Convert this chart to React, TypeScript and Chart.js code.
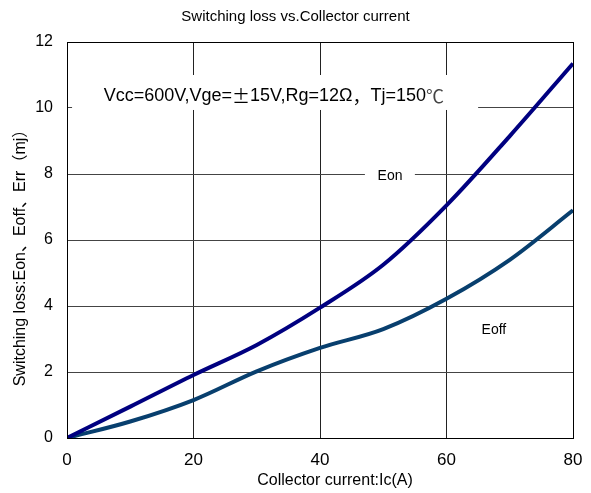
import React, { useEffect, useRef } from "react";
import { Chart, registerables } from "chart.js";

Chart.register(...registerables);

// Collector current (A)
const currentA = [0, 10, 20, 30, 40, 50, 60, 70, 80];
// Turn-on switching loss (mJ)
const eonMj = [0, 0.95, 1.91, 2.82, 3.95, 5.25, 7.05, 9.15, 11.35];
// Turn-off switching loss (mJ)
const eoffMj = [0, 0.5, 1.15, 2.02, 2.73, 3.3, 4.22, 5.4, 6.9];

const xTicks = [0, 20, 40, 60, 80];
const yTicks = [0, 2, 4, 6, 8, 10, 12];

const chartTitle = "Switching loss vs.Collector current";
const xTitle = "Collector current:Ic(A)";
const yTitle = "Switching loss:Eon、Eoff、Err（mj）";
// test conditions, split so the full-width symbols come from the CJK face
const conditionParts: [string, boolean][] = [
  ["Vcc=600V,Vge=", false],
  ["±", true],
  ["15V,Rg=12Ω", false],
  ["，", true],
  ["Tj=150", false],
  ["℃", true],
];
const eonLabel = "Eon";
const eoffLabel = "Eoff";

const FONT = '"Liberation Sans", Arial, "Noto Sans CJK SC", sans-serif';
const CJK = '"Noto Sans CJK SC", sans-serif';

const decor = {
  id: "decor",
  beforeDatasetsDraw(chart: any) {
    const { ctx, scales } = chart;
    const x = scales.x;
    const y = scales.y;
    ctx.save();
    ctx.fillStyle = "#ffffff";
    // white backing behind the conditions line
    const bx1 = x.getPixelForValue(0.8);
    const bx2 = x.getPixelForValue(65);
    const by1 = y.getPixelForValue(11.0);
    const by2 = y.getPixelForValue(9.94);
    ctx.fillRect(bx1, by1, bx2 - bx1, by2 - by1);
    // white backing behind the Eon label
    const ex1 = x.getPixelForValue(47.1);
    const ex2 = x.getPixelForValue(55);
    const ey1 = y.getPixelForValue(8.24);
    const ey2 = y.getPixelForValue(7.7);
    ctx.fillRect(ex1, ey1, ex2 - ex1, ey2 - ey1);
    ctx.restore();
  },
  afterDraw(chart: any) {
    const { ctx, scales, chartArea, width } = chart;
    const x = scales.x;
    const y = scales.y;
    ctx.save();
    ctx.fillStyle = "#000";
    ctx.textAlign = "center";
    ctx.textBaseline = "middle";

    ctx.font = `15px ${FONT}`;
    ctx.fillText(chartTitle, width / 2, 17);

    ctx.font = `16px ${FONT}`;
    ctx.fillText(xTitle, 335, 481);

    ctx.save();
    ctx.translate(21, 254);
    ctx.rotate(-Math.PI / 2);
    ctx.fillText(yTitle, 0, 0);
    ctx.restore();

    // conditions line, drawn piece by piece
    const latin = `18px ${FONT}`;
    const wide = `18px ${CJK}`;
    const widths = conditionParts.map(([t, w]) => {
      ctx.font = w ? wide : latin;
      return ctx.measureText(t).width;
    });
    const total = widths.reduce((a, b) => a + b, 0);
    let cx = x.getPixelForValue(32.7) - total / 2;
    const cy = y.getPixelForValue(10.36);
    ctx.textAlign = "left";
    conditionParts.forEach(([t, w], i) => {
      ctx.font = w ? wide : latin;
      ctx.fillStyle = t === "℃" ? "#444" : "#000";
      ctx.fillText(t, cx, cy);
      cx += widths[i];
    });
    ctx.fillStyle = "#000";
    ctx.textAlign = "center";

    ctx.font = `14px ${FONT}`;
    ctx.fillText(eonLabel, x.getPixelForValue(51.07), y.getPixelForValue(7.94));
    ctx.fillText(eoffLabel, x.getPixelForValue(67.5), y.getPixelForValue(3.27));

    // plot frame
    ctx.strokeStyle = "#000";
    ctx.lineWidth = 1;
    ctx.strokeRect(
      Math.round(chartArea.left) + 0.5,
      Math.round(chartArea.top) + 0.5,
      Math.round(chartArea.right - chartArea.left),
      Math.round(chartArea.bottom - chartArea.top)
    );
    ctx.restore();
  },
};

export default function App() {
  const ref = useRef<HTMLCanvasElement>(null);

  useEffect(() => {
    if (!ref.current) return;
    const chart = new Chart(ref.current, {
      type: "line",
      data: {
        datasets: [
          {
            label: eonLabel,
            data: currentA.map((c, i) => ({ x: c, y: eonMj[i] })),
            borderColor: "#000080",
            borderWidth: 4,
            pointRadius: 0,
            cubicInterpolationMode: "monotone",
            fill: false,
          },
          {
            label: eoffLabel,
            data: currentA.map((c, i) => ({ x: c, y: eoffMj[i] })),
            borderColor: "#083f6e",
            borderWidth: 4,
            pointRadius: 0,
            cubicInterpolationMode: "monotone",
            fill: false,
          },
        ],
      },
      options: {
        animation: false,
        responsive: false,
        maintainAspectRatio: false,
        layout: { padding: { top: 42, right: 18, left: 0, bottom: 0 } },
        plugins: {
          legend: { display: false },
          title: { display: false },
          tooltip: { enabled: false },
        },
        scales: {
          x: {
            type: "linear",
            min: 0,
            max: 80,
            afterFit(scale: any) {
              scale.height = 55;
              scale.paddingLeft = 0;
              scale.paddingRight = 0;
            },
            afterBuildTicks(scale: any) {
              scale.ticks = xTicks.map((v) => ({ value: v }));
            },
            grid: { color: "#222", lineWidth: 1, drawTicks: false },
            border: { display: false },
            ticks: {
              padding: 12,
              color: "#000",
              font: { family: FONT, size: 17 },
            },
          },
          y: {
            type: "linear",
            min: 0,
            max: 12,
            afterFit(scale: any) {
              scale.width = 67;
              scale.paddingTop = 0;
              scale.paddingBottom = 0;
            },
            afterBuildTicks(scale: any) {
              scale.ticks = yTicks.map((v) => ({ value: v }));
            },
            grid: { color: "#444", lineWidth: 1, drawTicks: false },
            border: { display: false },
            ticks: {
              padding: 14,
              color: "#000",
              font: { family: FONT, size: 16 },
            },
          },
        },
      },
      plugins: [decor],
    });
    return () => chart.destroy();
  }, []);

  return (
    <div style={{ position: "fixed", left: 0, top: 0, width: 591, height: 493, background: "#fff" }}>
      <canvas ref={ref} width={591} height={493} style={{ display: "block" }} />
    </div>
  );
}
